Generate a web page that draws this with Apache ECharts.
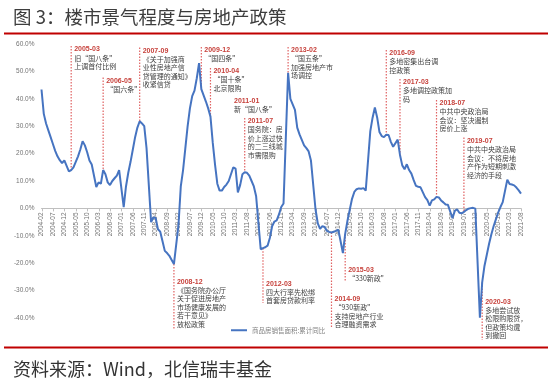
<!DOCTYPE html>
<html><head><meta charset="utf-8">
<script src="https://cdn.jsdelivr.net/npm/echarts/dist/echarts.min.js"></script>
<style>html,body{margin:0;padding:0;background:#fff}#c{width:550px;height:380px}</style>
</head><body><div id="c"></div>
<script>
// ---- data ----
const firstMonth = '2004-02', lastMonth = '2021-08';
const categories = [];
for (let y = 2004; y <= 2021; y++) for (let m = 1; m <= 12; m++) {
  const s = y + '-' + String(m).padStart(2, '0');
  if (s >= firstMonth && s <= lastMonth) categories.push(s);
}
// 商品房销售面积:累计同比 (%), January has no separate value (null)
const salesYoY = [
  /*2004*/ 43.4, 34.5, 31, 28.5, 26, 23.5, 21, 19, 17.6, 16.5, 17.5,
  /*2005*/ null, 13.5, 14, 15, 17, 19, 21.5, 24.5, 23, 20.5, 17.5, 16,
  /*2006*/ null, 7.8, 9.5, 9, 14, 12.5, 9.5, 8.5, 10, 11, 12, 14,
  /*2007*/ null, 0.5, 8, 13, 17, 21.5, 26, 29.5, 31.8, 31, 30, 22,
  /*2008*/ null, -5, -3.3, -3.5, -7.6, -8.5, -12, -15.5, -16.3, -17.3, -18.8, -20.3,
  /*2009*/ null, -6, 8, 14, 22, 30, 36.5, 41, 43, 47.5, 53, 43.5,
  /*2010*/ null, 39, 36.5, 33.5, 24, 16, 9, 6.5, 6.5, 7.8, 8.7, 10,
  /*2011*/ null, 15, 14.5, 5.8, 8.5, 12.5, 13.2, 13, 12, 10, 8, 4.4,
  /*2012*/ null, -14.9, -14.5, -14.2, -13.6, -10.8, -6.5, -4.8, -4.4, -2.2, 0.5, 1.8,
  /*2013*/ null, 49.5, 40, 38, 36, 29.5, 27, 25, 23, 22, 20.8, 17.5,
  /*2014*/ null, -0.3, -5.5, -7.5, -6.5, -6.8, -8.2, -8.6, -8.8, -8.5, -8.2, -7.8,
  /*2015*/ null, -16.3, -9.3, -4.5, -0.5, 3.5, 6, 7, 7.3, 7.2, 7.4, 6.5,
  /*2016*/ null, 28.2, 33.1, 36.8, 33.2, 27.9, 26.4, 26, 26.9, 26.8, 24.3, 22.5,
  /*2017*/ null, 25.1, 19.5, 15.7, 14.3, 16.1, 14, 12.7, 10.3, 8.2, 7.9, 7.7,
  /*2018*/ null, 4.1, 3, 1, 2.9, 3.3, 4.2, 4, 2.9, 2.2, 1.4, 1.3,
  /*2019*/ null, -3.6, -0.9, -0.3, -1.6, -1.8, -1.3, -0.6, -0.1, 0.1, 0.2, -0.1,
  /*2020*/ null, -39.9, -27, -21, -17, -13, -9.5, -6.5, -4, -1.5, 0.5, 2.3,
  /*2021*/ null, 10.5, 8.9, 8.7, 8.4, 7.6, 6.6, 5.4
];
const seriesName = '商品房销售面积:累计同比';
const yTicks = [-40, -30, -20, -10, 0, 10, 20, 30, 40, 50, 60];

// policy notes
const noteDates = ['2005-03','2006-05','2007-09','2008-12','2009-12','2010-04','2011-01','2011-07',
  '2012-03','2013-02','2014-09','2015-03','2016-09','2017-03','2018-07','2019-07','2020-03'];
const noteTexts = [
  ['旧“国八条”','上调首付比例'],
  ['“国六条”'],
  ['《关于加强商','业性房地产信','贷管理的通知》','收紧信贷'],
  ['《国务院办公厅','关于促进房地产','市场健康发展的','若干意见》','放松政策'],
  ['“国四条”'],
  ['“国十条”','北京限购'],
  ['新“国八条”'],
  ['国务院：房','价上涨过快','的二三线城','市需限购'],
  ['四大行率先松绑','首套房贷款利率'],
  ['“国五条”','加强房地产市','场调控'],
  ['“930新政”','支持房地产行业','合理融资需求'],
  ['“330新政”'],
  ['多地密集出台调','控政策'],
  ['多地调控政策加','码'],
  ['中共中央政治局','会议：坚决遏制','房价上涨'],
  ['中共中央政治局','会议：不将房地','产作为短期刺激','经济的手段'],
  ['多地尝试放','松限购限贷，','但政策均遭','到撤回']
];
// layout (axis value units): label top, and line end for notes hanging below the curve
const noteLayout = [
  {top:59.6},{top:48.1},{top:59.1},{top:-25.2,end:-44.4},{top:59.3},{top:51.6},{top:40.8},{top:33.4},
  {top:-25.9,end:-34.5},{top:59.3},{top:-31.6,end:-43.6},{top:-20.8,end:-26.8},{top:58.2},{top:47.6},
  {top:39.9},{top:26.2},{top:-32.5,end:-48}
];

// ---- chart ----
const chart = echarts.init(document.getElementById('c'), null, {renderer:'canvas'});
const CJK = '"Noto Sans CJK SC", sans-serif';
const GRID_BOTTOM = 62;
const option = {
  animation: false,
  backgroundColor: '#fff',
  grid: {left: 41.5, right: 29, top: 44, bottom: GRID_BOTTOM, containLabel: false},
  legend: {
    data: [seriesName], left: 226, top: 322, icon: 'rect', itemWidth: 16, itemHeight: 2,
    textStyle: {fontSize: 6.5, color: '#7f7f7f', fontFamily: CJK}
  },
  xAxis: {
    type: 'category', data: categories, boundaryGap: false,
    axisLine: {onZero: true, lineStyle: {color: '#bfbfbf', width: 1}},
    axisTick: {show: false},
    axisLabel: {interval: 4, rotate: 90, fontSize: 6.5, color: '#737373', margin: 3, fontFamily: 'Liberation Sans, Arial'},
    splitLine: {show: false}
  },
  yAxis: {
    type: 'value', min: yTicks[0], max: yTicks[yTicks.length-1], interval: 10,
    axisLine: {show: false}, axisTick: {show: false}, splitLine: {show: false},
    axisLabel: {formatter: v => v.toFixed(1) + '%', fontSize: 6.5, color: '#737373', margin: 7, fontFamily: 'Liberation Sans, Arial'}
  },
  series: [{
    name: seriesName, type: 'line', data: salesYoY, connectNulls: true, showSymbol: false, symbol: 'none',
    lineStyle: {color: '#4674C1', width: 2}, itemStyle: {color: '#4674C1'}, z: 3
  }]
};
chart.setOption(option);

// category labels sit next to the 0% line (as the axis crosses at zero)
const zeroY = chart.convertToPixel({yAxisIndex: 0}, 0);
const gridBottomY = 380 - GRID_BOTTOM;
chart.setOption({xAxis: {axisLabel: {margin: -(gridBottomY - zeroY) + 4}}});

const graphics = [];
// ticks on the zero axis at each labelled category
for (let i = 0; i < categories.length; i += 5) {
  const p = chart.convertToPixel({gridIndex: 0}, [i, 0]);
  graphics.push({type:'line', z: 2, shape:{x1: Math.round(p[0]) + 0.5, y1: p[1], x2: Math.round(p[0]) + 0.5, y2: p[1] + 3}, style:{stroke:'#bfbfbf', lineWidth: 1}});
}
// title, rules, source
graphics.push({type:'text', x: 13, y: 17, z: 10, style:{text:'图 3：楼市景气程度与房地产政策', fontSize: 18.5, fontFamily: CJK, fill:'#3d3d3d', verticalAlign:'middle'}});
graphics.push({type:'line', z: 10, shape:{x1: 4, y1: 33.5, x2: 548, y2: 33.5}, style:{stroke:'#c00000', lineWidth: 2}});
graphics.push({type:'line', z: 10, shape:{x1: 4, y1: 347.5, x2: 548, y2: 347.5}, style:{stroke:'#c00000', lineWidth: 2}});
graphics.push({type:'text', x: 13, y: 369, z: 10, style:{text:'资料来源：Wind，北信瑞丰基金', fontSize: 18, fontFamily: CJK, fill:'#333', verticalAlign:'middle'}});

const rich = {
  d: {fontSize: 7, fontWeight: 'bold', fontFamily: 'Liberation Sans, Arial', fill: '#c7423c', lineHeight: 8.5},
  t: {fontSize: 7, fontFamily: CJK, fill: '#404040', lineHeight: 8.5}
};
noteDates.forEach((d, k) => {
  const idx = categories.indexOf(d);
  const cv = salesYoY[idx];
  const L = noteLayout[k];
  const pc = chart.convertToPixel({gridIndex: 0}, [idx, cv]);
  const pt = chart.convertToPixel({gridIndex: 0}, [idx, L.top]);
  let y1, y2;
  if (L.end === undefined) { y1 = pt[1] + 1; y2 = pc[1]; }
  else { y1 = pc[1]; y2 = chart.convertToPixel({gridIndex: 0}, [idx, L.end])[1]; }
  graphics.push({type:'line', z: 2, shape:{x1: pc[0], y1: y1, x2: pc[0], y2: y2},
    style:{stroke:'#e06262', lineWidth: 1.2, lineDash:[1.5, 1.5]}});
  const txt = ['{d|' + d + '}'].concat(noteTexts[k].map(s => '{t|' + s + '}')).join('\n');
  graphics.push({type:'text', z: 4, x: pc[0] + 3, y: pt[1], style:{text: txt, rich: rich, align:'left', verticalAlign:'top'}});
});
chart.setOption({graphic: graphics});
</script>
</body></html>
